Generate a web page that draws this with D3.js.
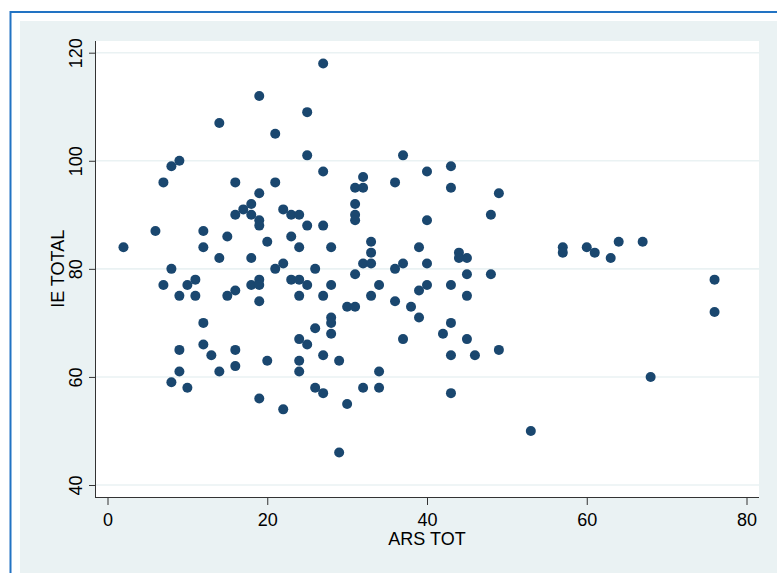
<!DOCTYPE html>
<html>
<head>
<meta charset="utf-8">
<script src="https://cdn.jsdelivr.net/npm/d3@7"></script>
<style>
  body { margin: 0; background: #fff; }
  svg text { font-family: "Liberation Sans", Arial, sans-serif; fill: #000; }
</style>
</head>
<body>
<svg id="chart" width="777" height="573"></svg>
<script>
// ARS TOT (x) and IE TOTAL (y)
const arsTot = [2, 6, 7, 8, 9, 12, 12, 14, 15, 16, 17, 16, 18, 18, 19, 19, 19, 19, 20, 21,
  21, 22, 23, 24, 23, 24, 25, 25, 25, 14, 18, 22, 8, 7, 10, 11, 9, 11, 15, 16,
  18, 19, 19, 19, 21, 23, 24, 25, 24, 12, 12, 9, 13, 16, 9, 14, 16, 8, 10, 20,
  19, 22, 24, 25, 24, 24, 27, 37, 27, 32, 31, 32, 36, 40, 43, 43, 49, 48, 40, 31,
  31, 31, 27, 28, 33, 33, 39, 44, 45, 44, 32, 33, 37, 40, 36, 26, 31, 45, 48, 28,
  34, 40, 43, 39, 27, 33, 45, 36, 30, 31, 38, 28, 28, 39, 43, 26, 28, 42, 37, 45,
  27, 29, 43, 46, 49, 34, 26, 27, 32, 34, 43, 30, 29, 57, 57, 60, 61, 63, 64, 67,
  76, 76, 68, 53]
const ieTotal = [84, 87, 96, 99, 100, 87, 84, 107, 86, 96, 91, 90, 92, 90, 112, 94, 89, 88, 85, 105,
  96, 91, 90, 90, 86, 84, 109, 101, 88, 82, 82, 81, 80, 77, 77, 78, 75, 75, 75, 76,
  77, 78, 77, 74, 80, 78, 78, 77, 75, 70, 66, 65, 64, 65, 61, 61, 62, 59, 58, 63,
  56, 54, 67, 66, 63, 61, 118, 101, 98, 97, 95, 95, 96, 98, 99, 95, 94, 90, 89, 92,
  90, 89, 88, 84, 85, 83, 84, 83, 82, 82, 81, 81, 81, 81, 80, 80, 79, 79, 79, 77,
  77, 77, 77, 76, 75, 75, 75, 74, 73, 73, 73, 71, 70, 71, 70, 69, 68, 68, 67, 67,
  64, 63, 64, 64, 65, 61, 58, 57, 58, 58, 57, 55, 46, 84, 83, 84, 83, 82, 85, 85,
  78, 72, 60, 50]
const xTicks = [0, 20, 40, 60, 80]
const yTicks = [40, 60, 80, 100, 120]
const xTitle = 'ARS TOT'
const yTitle = 'IE TOTAL'

const plot = { left: 96, right: 759, top: 41, bottom: 497 }
const markerColor = '#1a476f'
const bgColor = '#eaf2f3'

const svg = d3.select('#chart')

// frame and graph region
svg.append('rect')
  .attr('x', 10.5).attr('y', 12)
  .attr('width', 800).attr('height', 600)
  .attr('fill', '#fff')
  .attr('stroke', '#2273c3')
  .attr('stroke-width', 2)
svg.append('rect')
  .attr('x', 20).attr('y', 21)
  .attr('width', 777 - 20).attr('height', 573 - 21)
  .attr('fill', bgColor)
svg.append('rect')
  .attr('x', plot.left).attr('y', plot.top)
  .attr('width', plot.right - plot.left).attr('height', plot.bottom - plot.top)
  .attr('fill', '#fff')

const x = d3.scaleLinear().domain([0, 80]).range([107.5, 746.5])
const y = d3.scaleLinear().domain([40, 120]).range([485, 52.7])

// grid lines
svg.append('g')
  .selectAll('line')
  .data(yTicks)
  .join('line')
    .attr('x1', plot.left).attr('x2', plot.right)
    .attr('y1', d => y(d)).attr('y2', d => y(d))
    .attr('stroke', bgColor)
    .attr('stroke-width', 1.6)

// y axis
const yAxis = svg.append('g')
  .attr('transform', `translate(${plot.left},0)`)
  .call(d3.axisLeft(y).tickValues(yTicks).tickSize(7).tickSizeOuter(0))
yAxis.select('.domain').remove()
yAxis.selectAll('.tick line').attr('stroke', '#333')
yAxis.selectAll('.tick text')
  .attr('x', 0).attr('y', 0).attr('dy', null)
  .attr('transform', 'translate(-14,0) rotate(-90)')
  .attr('text-anchor', 'middle')
  .style('font-size', '18px')
  .attr('font-family', null)
svg.append('line')
  .attr('x1', plot.left - 0.5).attr('x2', plot.left - 0.5)
  .attr('y1', plot.top).attr('y2', plot.bottom)
  .attr('stroke', '#333')

// x axis
const xAxis = svg.append('g')
  .attr('transform', `translate(0,${plot.bottom})`)
  .call(d3.axisBottom(x).tickValues(xTicks).tickSize(8).tickSizeOuter(0))
xAxis.select('.domain').remove()
xAxis.selectAll('.tick line').attr('stroke', '#333')
xAxis.selectAll('.tick text')
  .attr('y', 29).attr('dy', null)
  .style('font-size', '18px')
  .attr('font-family', null)
svg.append('line')
  .attr('x1', plot.left - 1).attr('x2', plot.right)
  .attr('y1', plot.bottom + 0.5).attr('y2', plot.bottom + 0.5)
  .attr('stroke', '#333')

// titles
svg.append('text')
  .attr('x', x(40)).attr('y', 545)
  .attr('text-anchor', 'middle')
  .style('font-size', '18px')
  .text(xTitle)
svg.append('text')
  .attr('transform', `translate(64,${y(80)}) rotate(-90)`)
  .attr('text-anchor', 'middle')
  .style('font-size', '18px')
  .text(yTitle)

// markers
svg.append('g')
  .selectAll('circle')
  .data(arsTot.map((d, i) => [d, ieTotal[i]]))
  .join('circle')
    .attr('cx', d => x(d[0]))
    .attr('cy', d => y(d[1]))
    .attr('r', 5)
    .attr('fill', markerColor)
</script>
</body>
</html>
